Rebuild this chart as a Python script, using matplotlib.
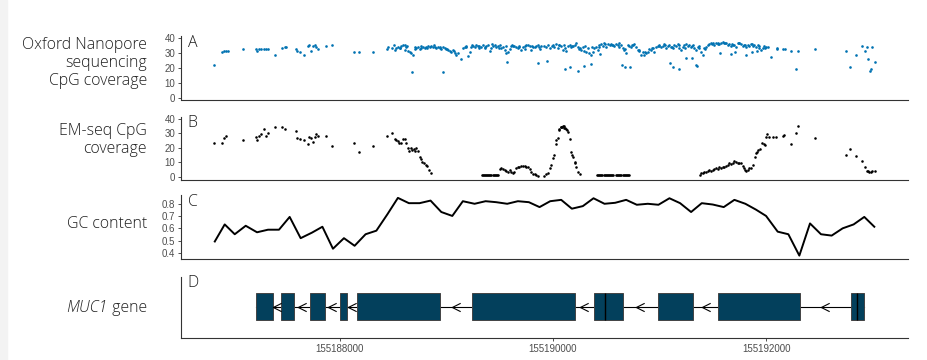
import numpy as np
import matplotlib
matplotlib.use('Agg')
from matplotlib import pyplot as plt
from matplotlib.patches import Rectangle
from matplotlib.path import Path
from matplotlib.ticker import MultipleLocator, ScalarFormatter

START = 155186000  # all offsets below are bp from this chr1 position

# (offset, coverage) for Oxford Nanopore CpGs
ont_points = [
    (822, 22.2), (900, 30.6), (919, 31.5), (938, 31.7), (953, 31.7), (1091, 32.7), (1216, 32.7), (1222, 31.7),
    (1244, 32.7), (1266, 32.7), (1288, 32.7), (1309, 32.7), (1331, 32.7), (1397, 28.9), (1456, 33.8), (1487, 34.4),
    (1494, 34.0), (1594, 32.7), (1603, 31.5), (1625, 30.6), (1662, 28.9), (1703, 35.1), (1715, 35.5), (1731, 31.7),
    (1750, 34.9), (1772, 35.5), (1778, 34.4), (1800, 32.7), (1868, 34.9), (1928, 35.5), (2131, 30.6), (2181, 30.6),
    (2309, 30.6), (2446, 32.9), (2493, 33.8), (2515, 32.2), (2531, 33.3), (2546, 34.4), (2562, 33.8), (2578, 35.1),
    (2593, 35.5), (2609, 35.8), (2615, 32.2), (2624, 34.4), (2640, 31.7), (2656, 31.1), (2671, 30.4), (2677, 17.3),
    (2687, 28.9), (2702, 34.4), (2718, 33.3), (2734, 34.0), (2749, 32.7), (2765, 33.8), (2781, 34.4), (2796, 33.3),
    (2812, 34.0), (2827, 34.9), (2843, 34.0), (2859, 34.9), (2874, 34.4), (2890, 34.0), (2905, 33.3), (2921, 34.4),
    (2937, 33.8), (2952, 32.7), (2968, 34.0), (2970, 17.3), (2984, 33.3), (2999, 32.7), (3015, 32.2), (3030, 31.7),
    (3046, 31.1), (3062, 32.2), (3077, 30.0), (3093, 28.9), (3140, 25.9), (3155, 33.3), (3171, 34.4), (3187, 34.9),
    (3202, 28.2), (3218, 31.1), (3233, 34.4), (3249, 35.1), (3265, 34.0), (3280, 35.5), (3296, 34.9), (3311, 33.3),
    (3327, 34.4), (3343, 35.5), (3358, 34.0), (3374, 34.9), (3390, 35.5), (3405, 31.7), (3421, 33.3), (3436, 34.9),
    (3452, 35.5), (3468, 34.0), (3483, 34.9), (3499, 35.5), (3514, 33.3), (3530, 34.4), (3546, 32.2), (3561, 30.4),
    (3568, 23.9), (3577, 31.1), (3593, 32.7), (3608, 34.9), (3624, 35.1), (3639, 34.9), (3655, 34.4), (3671, 33.3),
    (3686, 34.9), (3702, 32.2), (3717, 34.0), (3733, 34.9), (3749, 35.5), (3764, 35.8), (3780, 34.9), (3796, 32.2),
    (3811, 34.4), (3827, 34.0), (3842, 34.9), (3858, 35.5), (3864, 23.3), (3874, 32.7), (3889, 34.9), (3920, 35.1),
    (3945, 25.0), (3958, 35.5), (3968, 33.3), (3999, 35.5), (4014, 34.4), (4030, 36.0), (4046, 33.3), (4061, 35.5),
    (4077, 34.9), (4092, 32.2), (4108, 35.5), (4110, 19.3), (4124, 31.7), (4139, 34.9), (4155, 35.5), (4164, 21.1),
    (4170, 34.4), (4186, 34.9), (4202, 35.5), (4217, 36.6), (4233, 34.4), (4235, 18.2), (4249, 33.3), (4264, 32.2),
    (4280, 34.4), (4289, 21.5), (4295, 31.7), (4311, 31.1), (4327, 33.3), (4342, 30.4), (4352, 23.1), (4358, 28.9),
    (4373, 31.1), (4389, 33.3), (4405, 34.4), (4420, 32.2), (4436, 35.5), (4438, 29.5), (4452, 36.2), (4467, 34.9),
    (4483, 36.6), (4498, 34.4), (4514, 36.0), (4530, 35.5), (4545, 36.2), (4561, 35.5), (4576, 34.9), (4592, 36.0),
    (4608, 35.5), (4623, 36.6), (4639, 35.5), (4645, 22.2), (4654, 33.3), (4670, 32.2), (4672, 21.1), (4686, 30.4),
    (4701, 35.5), (4717, 34.9), (4726, 21.1), (4733, 34.4), (4748, 35.5), (4764, 36.2), (4779, 34.4), (4795, 32.2),
    (4811, 31.7), (4826, 28.9), (4842, 31.1), (4858, 28.9), (4873, 30.0), (4889, 31.1), (4904, 32.7), (4920, 32.2),
    (4936, 33.3), (4951, 31.1), (4967, 34.4), (4982, 34.9), (4998, 35.5), (5014, 34.4), (5029, 34.9), (5045, 36.0),
    (5061, 33.3), (5076, 34.9), (5092, 35.5), (5098, 23.3), (5107, 34.4), (5123, 33.3), (5125, 21.1), (5139, 35.5),
    (5154, 34.9), (5170, 36.2), (5179, 19.3), (5185, 33.3), (5201, 32.2), (5217, 34.4), (5232, 35.5), (5248, 36.2),
    (5250, 27.1), (5264, 34.9), (5279, 35.5), (5295, 34.4), (5304, 27.1), (5310, 35.5), (5326, 33.3), (5342, 32.2),
    (5344, 22.2), (5348, 21.5), (5357, 34.4), (5373, 33.3), (5388, 31.1), (5404, 28.9), (5420, 33.3), (5435, 34.4),
    (5451, 35.5), (5467, 36.2), (5482, 36.6), (5498, 37.1), (5513, 35.5), (5529, 36.6), (5545, 37.1), (5560, 36.2),
    (5563, 30.0), (5576, 36.6), (5591, 37.8), (5607, 37.1), (5623, 36.6), (5638, 35.5), (5654, 36.2), (5670, 34.9),
    (5672, 29.5), (5685, 35.5), (5701, 35.5), (5707, 31.1), (5717, 34.4), (5732, 36.6), (5748, 37.1), (5763, 36.2),
    (5779, 34.9), (5795, 35.5), (5807, 28.9), (5810, 34.4), (5826, 35.5), (5842, 34.9), (5857, 36.0), (5863, 30.6),
    (5873, 34.9), (5888, 35.5), (5904, 34.4), (5910, 31.7), (5920, 35.5), (5935, 33.3), (5951, 32.2), (5966, 33.3),
    (5982, 34.9), (5998, 34.0), (6013, 34.0), (6045, 27.8), (6098, 33.8), (6104, 32.7), (6154, 32.7), (6173, 32.7),
    (6235, 31.7), (6282, 19.3), (6294, 31.7), (6457, 32.7), (6747, 31.7), (6785, 21.1), (6844, 28.9), (6900, 34.9),
    (6925, 31.7), (6941, 34.0), (6950, 25.9), (6972, 18.4), (6978, 19.3), (6994, 34.0), (7019, 23.9),
    # overlapping CpGs inside the dense stretch
    (2454, 34.0), (2508, 35.2), (2570, 33.6), (2632, 34.8), (2710, 32.9), (2758, 35.0), (2820, 33.4), (2882, 35.3),
    (2945, 34.1), (3008, 33.0), (3070, 31.5), (3110, 30.2), (3180, 33.9), (3240, 35.6), (3305, 34.7), (3366, 33.5),
    (3428, 35.9), (3490, 33.2), (3555, 34.6), (3616, 35.4), (3680, 34.2), (3740, 33.1), (3804, 35.0), (3866, 34.3),
    (3930, 34.0), (3990, 34.8), (4054, 35.7), (4116, 33.6), (4178, 34.9), (4240, 32.8), (4302, 35.1), (4366, 33.9),
    (4428, 34.5), (4490, 36.1), (4552, 35.3), (4615, 34.4), (4678, 33.0), (4740, 35.8), (4802, 32.5), (4865, 30.8),
    (4928, 33.6), (4990, 34.7), (5052, 35.2), (5115, 34.1), (5178, 35.6), (5240, 33.8), (5302, 35.0), (5365, 34.6),
    (5428, 32.9), (5490, 36.0), (5552, 36.4), (5615, 37.0), (5678, 35.9), (5740, 36.8), (5802, 35.4), (5865, 36.3),
    (5928, 34.8), (5990, 33.7),
]

# (offset, coverage) for EM-seq CpGs
em_points = [
    (822, 23.2), (900, 23.2), (919, 27.1), (938, 28.3), (1091, 25.5), (1216, 27.3), (1222, 25.5), (1244, 28.3),
    (1266, 29.4), (1291, 33.3), (1309, 28.3), (1331, 30.1), (1397, 34.3), (1456, 34.3), (1487, 33.3), (1594, 31.5),
    (1603, 26.6), (1625, 26.4), (1662, 25.5), (1703, 22.5), (1715, 27.3), (1731, 26.6), (1750, 24.3), (1772, 27.3),
    (1778, 29.4), (1800, 28.3), (1868, 28.3), (1928, 21.4), (2131, 23.2), (2181, 17.2), (2309, 21.4),
    (2446, 28.3), (2493, 30.4), (2515, 26.4), (2531, 25.5), (2546, 25.0), (2556, 23.2), (2578, 23.2), (2593, 26.4),
    (2609, 26.4), (2624, 23.2), (2640, 19.7), (2649, 18.1), (2665, 19.7), (2681, 18.6), (2696, 19.1), (2702, 17.5),
    (2718, 19.7), (2734, 17.5), (2749, 14.0), (2759, 12.2), (2774, 10.5), (2790, 9.8), (2806, 8.2), (2821, 7.5),
    (2837, 4.7), (2852, 2.4),
    (3333, 1), (3343, 1), (3353, 1), (3363, 1), (3373, 1), (3383, 1), (3393, 1), (3403, 1), (3413, 1), (3423, 1),
    (3433, 1), (3443, 1), (3453, 1), (3463, 1), (3473, 1), (3483, 1.5),
    (3499, 5.1), (3514, 5.8), (3530, 5.1), (3546, 4.6), (3561, 4.2), (3577, 3.5), (3593, 4.6), (3608, 3.5),
    (3624, 2.8), (3639, 3.5), (3655, 5.8), (3671, 6.9), (3686, 6.9), (3702, 7.4), (3717, 7.4), (3733, 7.4),
    (3749, 6.9), (3764, 6.5), (3780, 5.1), (3796, 3.5), (3811, 1.9), (3827, 1.9), (3842, 1.2), (3858, 0.7),
    (3920, 0.7), (3936, 1.9), (3952, 2.4), (3968, 5.8), (3983, 8.1), (3998, 12.7), (4008, 15.1), (4024, 22.5),
    (4030, 25.5), (4045, 26.6), (4055, 32.9), (4061, 32.4), (4071, 34.7), (4077, 34.7), (4086, 34.3), (4092, 35.4),
    (4102, 35.2), (4108, 34.0), (4117, 34.0), (4124, 33.1), (4130, 32.4), (4139, 31.2), (4155, 26.2), (4171, 17.4),
    (4180, 15.2), (4186, 13.9), (4202, 10.4), (4211, 9.4), (4218, 6.9), (4233, 3.5), (4249, 1.6),
    (4414, 1), (4424, 1), (4434, 1), (4444, 1), (4454, 1), (4464, 1), (4474, 1), (4484, 1), (4494, 1), (4504, 1),
    (4514, 1), (4524, 1), (4534, 1), (4544, 1), (4554, 1), (4567, 1),
    (4592, 1), (4602, 1), (4612, 1), (4622, 1), (4632, 1), (4642, 1), (4652, 1), (4662, 1), (4672, 1), (4682, 1),
    (4692, 1), (4702, 1), (4711, 1),
    (5379, 1.2), (5389, 2.3), (5404, 2.8), (5420, 3.5), (5435, 3.5), (5451, 4.2), (5467, 4.6), (5482, 4.2),
    (5498, 4.6), (5513, 5.1), (5529, 5.8), (5545, 5.1), (5560, 6.5), (5576, 5.8), (5591, 6.5), (5607, 6.5),
    (5623, 7.4), (5638, 8.1), (5654, 9.3), (5670, 8.8), (5685, 9.7), (5701, 10.9), (5717, 10.4), (5732, 9.7),
    (5748, 9.3), (5763, 9.3), (5779, 7.4), (5788, 5.8), (5801, 4.6), (5813, 4.2), (5826, 4.6), (5842, 5.8),
    (5857, 5.8), (5873, 8.1), (5895, 13.4), (5904, 16.2), (5913, 17.4), (5926, 18.5), (5938, 19.0), (5957, 23.2),
    (5976, 22.5), (5988, 21.8), (5998, 27.8), (6007, 29.4), (6029, 27.3), (6060, 27.3), (6092, 27.3), (6154, 28.3),
    (6169, 28.9), (6232, 22.5), (6279, 30.1), (6294, 35.4), (6460, 26.6), (6747, 15.1), (6785, 19.4), (6844, 14.1),
    (6900, 11.1), (6925, 7.0), (6941, 4.2), (6950, 4.2), (6966, 3.5), (6978, 3.5), (6994, 4.2), (7019, 4.2),
]

# GC content in 100 bp windows
gc_offset = [829, 922, 1016, 1119, 1225, 1328, 1431, 1531, 1634, 1740, 1838, 1937, 2040, 2140, 2243, 2344,
             2447, 2546, 2649, 2749, 2852, 2953, 3056, 3155, 3265, 3368, 3468, 3571, 3671, 3774, 3874, 3974,
             4077, 4177, 4280, 4380, 4483, 4583, 4686, 4786, 4889, 4989, 5092, 5192, 5295, 5395, 5498, 5601,
             5701, 5804, 5904, 5998, 6107, 6207, 6310, 6410, 6513, 6613, 6716, 6819, 6919, 7013]
gc_frac = [0.493, 0.632, 0.552, 0.621, 0.568, 0.589, 0.589, 0.693, 0.520, 0.565, 0.613, 0.434, 0.520, 0.458,
           0.552, 0.581, 0.714, 0.848, 0.805, 0.805, 0.826, 0.733, 0.701, 0.821, 0.800, 0.821, 0.813, 0.800,
           0.821, 0.813, 0.773, 0.821, 0.832, 0.760, 0.781, 0.845, 0.800, 0.808, 0.832, 0.792, 0.800, 0.792,
           0.845, 0.805, 0.733, 0.805, 0.794, 0.773, 0.832, 0.800, 0.752, 0.701, 0.573, 0.552, 0.378, 0.640,
           0.552, 0.541, 0.600, 0.632, 0.693, 0.613]

# MUC1 exon blocks
exon_start = [1219, 1447, 1719, 2000, 2162, 3240, 4380, 4489, 4982, 5551, 6791, 6851]
exon_end = [1375, 1575, 1859, 2065, 2937, 4208, 4489, 4658, 5314, 6317, 6851, 6916]

ONT_COLOR = '#0072B2'
EXON_COLOR = '#03405c'
TEXT = '#1f1f1f'

ont_pos = START + np.array([p for p, _ in ont_points])
ont_cov = np.array([v for _, v in ont_points])
em_pos = START + np.array([p for p, _ in em_points])
em_cov = np.array([v for _, v in em_points])
gc_pos = START + np.array(gc_offset)
ex_s = START + np.array(exon_start)
ex_e = START + np.array(exon_end)

fig = plt.figure(figsize=(9.28, 3.6), dpi=100)
fig.patches.append(Rectangle((0, 0), 7 / 928, 1, transform=fig.transFigure, color='#f3f3f3', zorder=-1))

left, width = 181 / 928, 727 / 928
# (top, bottom) of each panel in pixels
rows = [(36, 99.5), (116.7, 179.5), (195, 258.5), (276.7, 337.7)]
axes = [fig.add_axes([left, 1 - b / 360, width, (b - t) / 360]) for t, b in rows]
ax_ont, ax_em, ax_gc, ax_gene = axes

allx = np.concatenate([ont_pos, em_pos, gc_pos])
span = allx.max() - allx.min()
xlim = (allx.min() - 0.05 * span, allx.max() + 0.05 * span)

for ax, letter in zip(axes, 'ABCD'):
    ax.set_xlim(xlim)
    for s in ('top', 'right'):
        ax.spines[s].set_visible(False)
    for s in ('left', 'bottom'):
        ax.spines[s].set_color('#333333')
        ax.spines[s].set_linewidth(0.8)
    ax.tick_params(axis='y', labelsize=7, labelcolor='#4d4d4d', color='#333333', length=2.5, width=0.6, pad=1.5)
    ax.tick_params(axis='x', bottom=False, labelbottom=False)
    ax.text(0.009, 1.02, letter, transform=ax.transAxes, ha='left', va='top', fontsize=11.4,
            color=TEXT, family='Open Sans', weight='light')

ax_ont.scatter(ont_pos, ont_cov, s=3.6, color=ONT_COLOR, linewidths=0)
ax_ont.set_ylim(-0.8, 41.5)
ax_ont.set_yticks([0, 10, 20, 30, 40])

ax_em.scatter(em_pos, em_cov, s=3.4, color='black', linewidths=0)
ax_em.set_ylim(-1.9, 41.6)
ax_em.set_yticks([0, 10, 20, 30, 40])

ax_gc.plot(gc_pos, gc_frac, color='black', lw=1.4)
gspan = max(gc_frac) - min(gc_frac)
ax_gc.set_ylim(min(gc_frac) - 0.05 * gspan, max(gc_frac) + 0.05 * gspan)
ax_gc.set_yticks([0.4, 0.5, 0.6, 0.7, 0.8])

# gene track: backbone, exon boxes and strand chevrons in each intron
yc, hh = 0.51, 0.22
ax_gene.set_ylim(0, 1)
ax_gene.tick_params(axis='y', left=False, labelleft=False)
ax_gene.plot([ex_s.min(), ex_e.max()], [yc, yc], color='black', lw=0.8, zorder=1)
for s, e in zip(ex_s, ex_e):
    ax_gene.add_patch(Rectangle((s, yc - hh), e - s, 2 * hh, facecolor=EXON_COLOR,
                                edgecolor='#444444', lw=0.7, zorder=2))
# boundaries where two blocks touch
joins = [e for e, s2 in zip(ex_e[:-1], ex_s[1:]) if s2 == e]
ax_gene.vlines(joins, yc - hh, yc + hh, color='black', lw=1.0, zorder=3)
intron_mid = [(e + s2) / 2 for e, s2 in zip(ex_e[:-1], ex_s[1:]) if s2 > e]
chev = Path([(0.5, 0.5), (-0.5, 0.0), (0.5, -0.5)], [Path.MOVETO, Path.LINETO, Path.LINETO])
ax_gene.plot(intron_mid, [yc] * len(intron_mid), ls='none', marker=chev, ms=6, mfc='none',
             mec='black', mew=0.8, zorder=3)
ax_gene.xaxis.set_major_locator(MultipleLocator(2000))
fmt = ScalarFormatter(useOffset=False)
fmt.set_scientific(False)
ax_gene.xaxis.set_major_formatter(fmt)
ax_gene.tick_params(axis='x', bottom=True, labelbottom=True, labelsize=7, labelcolor='#4d4d4d',
                    color='#333333', length=2.5, width=0.6, pad=2)

fig.canvas.draw()
for ax in axes:
    for lab in ax.get_yticklabels() + ax.get_xticklabels():
        lab.set_family('Liberation Sans')

# track labels
lab_kw = dict(ha='right', va='center', fontsize=11.4, color=TEXT, family='Open Sans', weight='light',
              linespacing=1.18)
xr = 147 / 928
fig.text(xr, 1 - 63 / 360, 'Oxford Nanopore\nsequencing\nCpG coverage', **lab_kw)
fig.text(xr, 1 - 140 / 360, 'EM-seq CpG\ncoverage', **lab_kw)
fig.text(xr, 1 - 224 / 360, 'GC content', **lab_kw)
gene_txt = fig.text(xr, 1 - 308 / 360, ' gene', **lab_kw)
fig.canvas.draw()
bb = gene_txt.get_window_extent().transformed(fig.transFigure.inverted())
fig.text(bb.x0, bb.y0, 'MUC1', ha='right', va='bottom', fontsize=11.4, color=TEXT, family='Open Sans',
         weight='light', style='italic')

fig.savefig('out.png', dpi=100)
